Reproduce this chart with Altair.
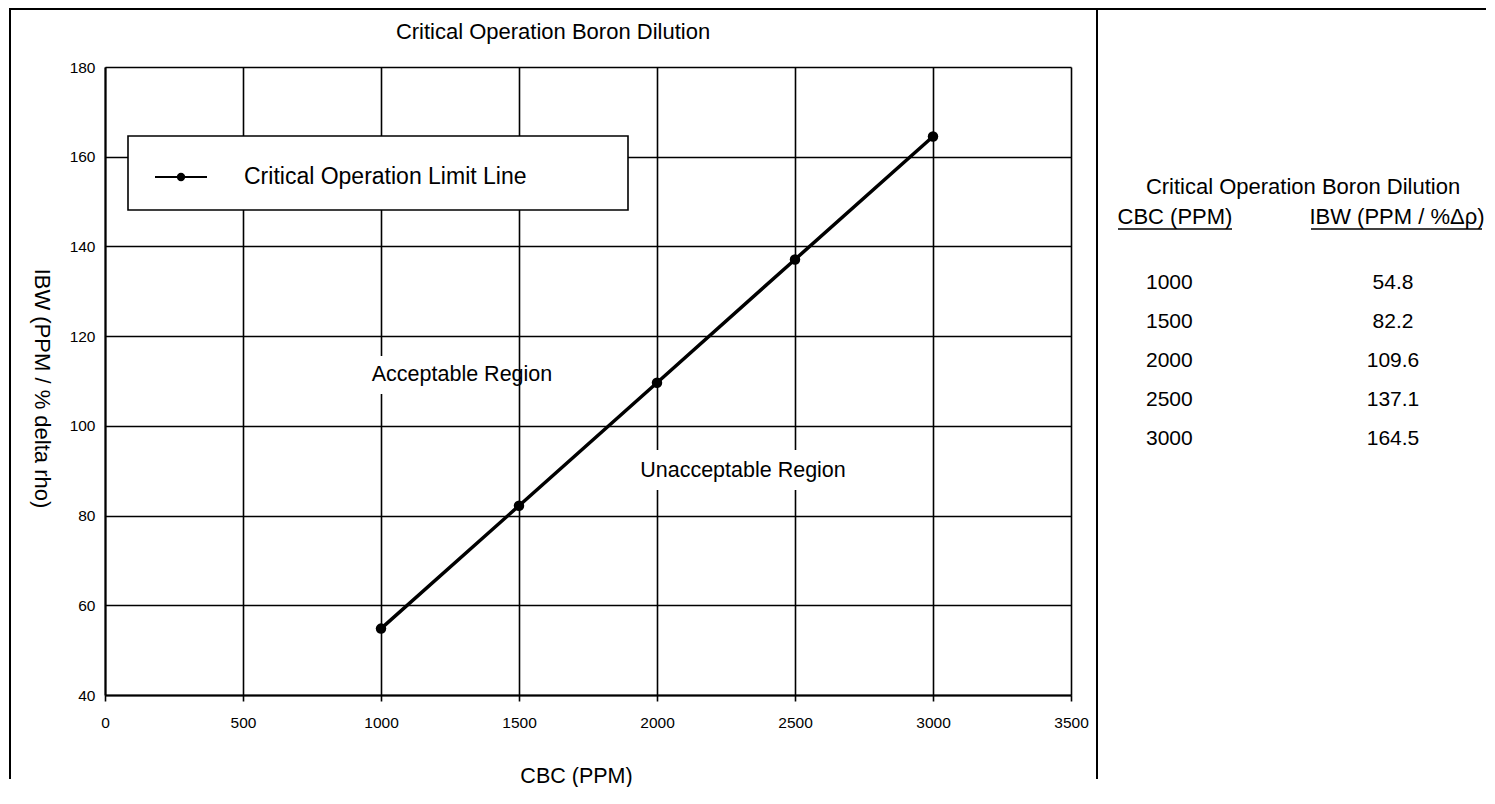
import altair as alt
import pandas as pd

# ---------------- data ----------------
cbc = [1000, 1500, 2000, 2500, 3000]
ibw = [54.8, 82.2, 109.6, 137.1, 164.5]
cbc_text = ["1000", "1500", "2000", "2500", "3000"]
ibw_text = ["54.8", "82.2", "109.6", "137.1", "164.5"]
x_ticks = [0, 500, 1000, 1500, 2000, 2500, 3000, 3500]
y_ticks = [40, 60, 80, 100, 120, 140, 160, 180]

chart_title = "Critical Operation Boron Dilution"
x_title = "CBC (PPM)"
y_title = "IBW (PPM / % delta rho)"
legend_label = "Critical Operation Limit Line"
region_labels = ["Acceptable Region", "Unacceptable Region"]
table_title = "Critical Operation Boron Dilution"
table_headers = ["CBC (PPM)", "IBW (PPM / %Δρ)"]

FONT = "Liberation Sans"
W, H = 966, 628

df = pd.DataFrame({"cbc": cbc, "ibw": ibw, "cbc_text": cbc_text, "ibw_text": ibw_text})
one = pd.DataFrame({"k": [0]})

x_scale = alt.Scale(domain=[0, 3500], nice=False, zero=False)
y_scale = alt.Scale(domain=[40, 180], nice=False, zero=False)

x_axis = alt.Axis(
    values=x_ticks, format="d", grid=True, gridColor="black", gridWidth=1.6, gridOpacity=1,
    domainColor="black", domainWidth=2, ticks=True, tickSize=6, tickColor="black", tickWidth=1.6,
    labelFont=FONT, labelFontSize=15.5, labelColor="black", labelPadding=14, labelFlush=False,
    labelOverlap=False, title=x_title, titleFont=FONT, titleFontSize=21.5, titleFontWeight="normal",
    titleColor="black", titleX=471, titleY=81, titleAlign="center", titleBaseline="middle",
)
y_axis = alt.Axis(
    values=y_ticks, format="d", grid=True, gridColor="black", gridWidth=1.6, gridOpacity=1,
    domainColor="black", domainWidth=2, ticks=False, tickSize=0,
    labelFont=FONT, labelFontSize=15.5, labelColor="black", labelPadding=10, labelFlush=False,
    labelOverlap=False, title=y_title, titleFont=FONT, titleFontSize=22, titleFontWeight="normal",
    titleColor="black", titleAngle=90, titleX=-64, titleY=321, titleAlign="center",
    titleBaseline="middle",
)


def hrule(x, x2, y, w):
    return alt.Chart(one).mark_rule(color="black", strokeWidth=w).encode(
        x=alt.value(x), x2=alt.value(x2), y=alt.value(y))


def vrule(x, y, y2, w):
    return alt.Chart(one).mark_rule(color="black", strokeWidth=w).encode(
        x=alt.value(x), y=alt.value(y), y2=alt.value(y2))


def box(x, x2, y, y2, stroke=None):
    kw = dict(fill="white")
    if stroke:
        kw.update(stroke="black", strokeWidth=1.6)
    return alt.Chart(one).mark_rect(**kw).encode(
        x=alt.value(x), x2=alt.value(x2), y=alt.value(y), y2=alt.value(y2))


def label(txt, x, y, size=21, align="center"):
    return alt.Chart(one).mark_text(
        font=FONT, fontSize=size, color="black", align=align, baseline="middle").encode(
        x=alt.value(x), y=alt.value(y), text=alt.value(txt))


# masks behind region labels
mask1 = box(270, 400, 289, 327)
mask2 = box(535, 745, 383, 423)

# legend box
legend_box = box(23, 523, 69, 143, stroke=True)
legend_line = hrule(50, 102, 110, 2.2)
legend_dot = alt.Chart(one).mark_circle(color="black", size=70, opacity=1).encode(
    x=alt.value(76), y=alt.value(110))
legend_text = label(legend_label, 139, 110, size=23, align="left")

# frame
top_border = hrule(-96, 1381, -58, 2)
left_border = vrule(-95, -58, 712, 2)
divider = vrule(992, -58, 712, 2)

title = label(chart_title, 448, -35, size=22)
reg1 = label(region_labels[0], 357, 308, size=21.5)
reg2 = label(region_labels[1], 638, 404, size=21.5)

# right-side table
t_title = label(table_title, 1198, 120, size=22)
h1 = label(table_headers[0], 1070, 150, size=22)
h2 = label(table_headers[1], 1292, 150, size=22)
u1 = hrule(1013, 1127, 162, 1.6)
u2 = hrule(1206, 1377, 162, 1.6)

row_scale = alt.Scale(type="point", domain=cbc_text, range=[216, 372], padding=0)
col1 = alt.Chart(df).mark_text(font=FONT, fontSize=21, color="black", align="left",
                               baseline="middle").encode(
    x=alt.value(1041), y=alt.Y("cbc_text:O", scale=row_scale, axis=None), text="cbc_text:N")
col2 = alt.Chart(df).mark_text(font=FONT, fontSize=21, color="black", align="center",
                               baseline="middle").encode(
    x=alt.value(1288), y=alt.Y("cbc_text:O", scale=row_scale, axis=None), text="ibw_text:N")

# data
line = alt.Chart(df).mark_line(color="black", strokeWidth=3.5).encode(
    x=alt.X("cbc:Q", scale=x_scale, axis=x_axis),
    y=alt.Y("ibw:Q", scale=y_scale, axis=y_axis),
)
pts = alt.Chart(df).mark_circle(color="black", size=110, opacity=1).encode(
    x=alt.X("cbc:Q", scale=x_scale, axis=x_axis),
    y=alt.Y("ibw:Q", scale=y_scale, axis=None),
)

chart = alt.layer(
    line, mask1, mask2, legend_box, legend_line, legend_dot, legend_text,
    top_border, left_border, divider, title, reg1, reg2,
    t_title, h1, h2, u1, u2, col1, col2, pts,
).resolve_scale(y="independent").properties(
    width=W, height=H, padding=0, background="white",
    autosize=alt.AutoSizeParams(type="pad"),
).configure_view(stroke=None)

chart.save("out.html", embed_options={"renderer": "svg", "actions": False})
